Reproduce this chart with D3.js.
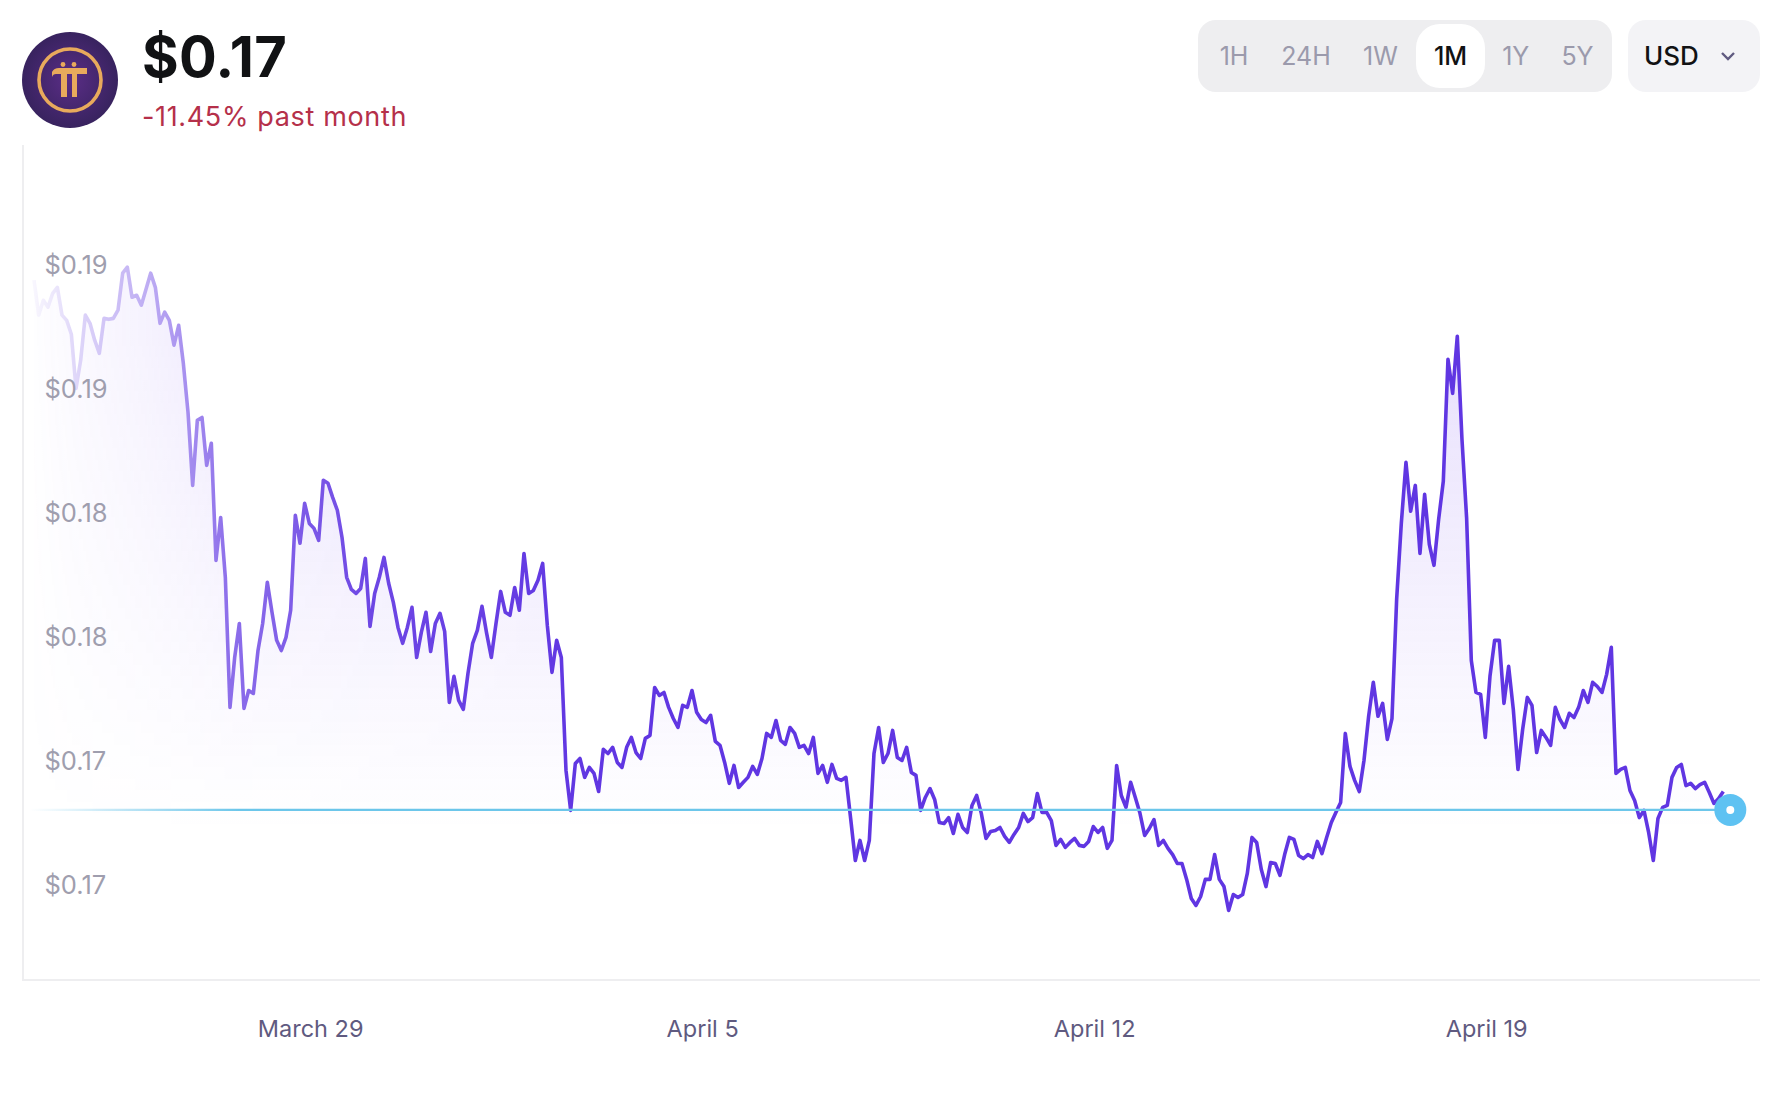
<!DOCTYPE html>
<html>
<head>
<meta charset="utf-8">
<script src="https://cdn.jsdelivr.net/npm/d3@7/dist/d3.min.js"></script>
<style>
  html, body { margin: 0; background: #fff; }
  svg { display: block; }
  text { font-family: Inter, "Noto Sans", sans-serif; }
</style>
</head>
<body>
<div id="chart"></div>
<script>
// one price every two hours
const prices = [
  0.18935,0.18794,0.18854,0.18826,0.18882,0.18906,0.18794,0.18773,0.18717,0.18499,
  0.18612,0.18794,0.18761,0.18693,0.18640,0.18781,0.18777,0.18781,0.18814,0.18963,
  0.18987,0.18866,0.18874,0.18834,0.18898,0.18963,0.18906,0.18761,0.18806,0.18773,
  0.18673,0.18753,0.18600,0.18403,0.18108,0.18370,0.18382,0.18189,0.18278,0.17806,
  0.17979,0.17738,0.17214,0.17415,0.17552,0.17210,0.17282,0.17270,0.17443,0.17552,
  0.17718,0.17597,0.17484,0.17443,0.17496,0.17605,0.17988,0.17875,0.18036,0.17955,
  0.17935,0.17887,0.18129,0.18117,0.18060,0.18008,0.17899,0.17738,0.17689,0.17673,
  0.17693,0.17814,0.17540,0.17673,0.17738,0.17818,0.17714,0.17637,0.17536,0.17472,
  0.17536,0.17617,0.17415,0.17516,0.17597,0.17439,0.17552,0.17593,0.17520,0.17234,
  0.17339,0.17242,0.17206,0.17351,0.17472,0.17524,0.17621,0.17512,0.17415,0.17552,
  0.17681,0.17597,0.17585,0.17697,0.17605,0.17834,0.17673,0.17685,0.17726,0.17794,
  0.17544,0.17355,0.17484,0.17415,0.16960,0.16799,0.16988,0.17008,0.16932,0.16972,
  0.16948,0.16875,0.17045,0.17028,0.17053,0.16992,0.16972,0.17053,0.17093,0.17032,
  0.17008,0.17089,0.17101,0.17294,0.17262,0.17274,0.17214,0.17169,0.17133,0.17222,
  0.17214,0.17282,0.17194,0.17165,0.17153,0.17182,0.17077,0.17061,0.16992,0.16908,
  0.16980,0.16891,0.16912,0.16932,0.16976,0.16944,0.17008,0.17109,0.17093,0.17161,
  0.17081,0.17065,0.17133,0.17109,0.17053,0.17061,0.17028,0.17093,0.16948,0.16980,
  0.16912,0.16984,0.16928,0.16920,0.16932,0.16766,0.16597,0.16678,0.16597,0.16678,
  0.17028,0.17133,0.16992,0.17028,0.17121,0.17012,0.17000,0.17053,0.16952,0.16940,
  0.16799,0.16851,0.16887,0.16843,0.16750,0.16746,0.16770,0.16706,0.16783,0.16730,
  0.16710,0.16819,0.16859,0.16787,0.16686,0.16714,0.16718,0.16730,0.16694,0.16670,
  0.16702,0.16730,0.16787,0.16754,0.16770,0.16867,0.16791,0.16791,0.16758,0.16658,
  0.16682,0.16650,0.16670,0.16686,0.16658,0.16654,0.16674,0.16734,0.16710,0.16730,
  0.16646,0.16678,0.16980,0.16859,0.16811,0.16912,0.16851,0.16787,0.16698,0.16726,
  0.16762,0.16658,0.16678,0.16646,0.16621,0.16585,0.16585,0.16521,0.16444,0.16416,
  0.16452,0.16521,0.16521,0.16621,0.16521,0.16492,0.16396,0.16460,0.16448,0.16460,
  0.16545,0.16690,0.16670,0.16561,0.16492,0.16589,0.16585,0.16537,0.16621,0.16690,
  0.16682,0.16617,0.16605,0.16621,0.16609,0.16674,0.16625,0.16690,0.16750,0.16791,
  0.16831,0.17109,0.16976,0.16920,0.16875,0.17000,0.17178,0.17315,0.17178,0.17230,
  0.17085,0.17169,0.17649,0.17955,0.18201,0.18004,0.18108,0.17834,0.18072,0.17871,
  0.17786,0.17971,0.18125,0.18616,0.18479,0.18709,0.18294,0.17975,0.17403,0.17274,
  0.17266,0.17093,0.17339,0.17484,0.17484,0.17230,0.17379,0.17206,0.16964,0.17125,
  0.17254,0.17222,0.17032,0.17121,0.17093,0.17061,0.17214,0.17165,0.17133,0.17190,
  0.17173,0.17214,0.17282,0.17234,0.17315,0.17298,0.17274,0.17347,0.17456,0.16948,
  0.16964,0.16972,0.16879,0.16839,0.16770,0.16799,0.16710,0.16597,0.16766,0.16811,
  0.16819,0.16932,0.16972,0.16984,0.16899,0.16908,0.16887,0.16903,0.16912,0.16871,
  0.16827,0.16847,0.16875
];
const currentPrice = 0.16801;
const hoursPerPoint = 2;
const startTime = Date.UTC(2025, 2, 24, 1);
const endTime = startTime + 727 * 3600e3;

const yTickValues = [0.19, 0.185, 0.18, 0.175, 0.17, 0.165];
const yTickLabels = ["$0.19", "$0.19", "$0.18", "$0.18", "$0.17", "$0.17"];
const xTickDates = [Date.UTC(2025, 2, 29), Date.UTC(2025, 3, 5), Date.UTC(2025, 3, 12), Date.UTC(2025, 3, 19)];
const xTickLabels = ["March 29", "April 5", "April 12", "April 19"];
const ranges = ["1H", "24H", "1W", "1M", "1Y", "5Y"];
const activeRange = "1M";

const width = 1792, height = 1094;
const frame = { left: 23, right: 1760, top: 145, bottom: 980 };

const x = d3.scaleUtc().domain([startTime, endTime]).range([34, 1730.3]);
const y = d3.scaleLinear().domain([0.165, 0.19]).range([884.6, 264]);
const points = prices.map((p, i) => ({ t: startTime + i * hoursPerPoint * 3600e3, p }));

const svg = d3.select("#chart").append("svg").attr("width", width).attr("height", height);
const defs = svg.append("defs");

// area colour, strongest at the top
const areaGrad = defs.append("linearGradient").attr("id", "areaGrad")
  .attr("gradientUnits", "userSpaceOnUse").attr("x1", 0).attr("x2", 0).attr("y1", 336).attr("y2", 830);
areaGrad.append("stop").attr("offset", 0).attr("stop-color", "#7a4cf0").attr("stop-opacity", 0.17);
areaGrad.append("stop").attr("offset", 1).attr("stop-color", "#7a4cf0").attr("stop-opacity", 0);

// the whole series fades out towards the left edge
const fadeGrad = defs.append("linearGradient").attr("id", "fadeGrad")
  .attr("gradientUnits", "userSpaceOnUse").attr("x1", 30).attr("x2", 600).attr("y1", 0).attr("y2", 0);
[[0, 0.03], [0.08, 0.2], [0.2, 0.4], [0.35, 0.72], [0.6, 0.92], [1, 1]].forEach(([o, a]) => {
  fadeGrad.append("stop").attr("offset", o).attr("stop-color", "#fff").attr("stop-opacity", a);
});
defs.append("mask").attr("id", "fade").attr("maskUnits", "userSpaceOnUse")
  .attr("x", 0).attr("y", 0).attr("width", width).attr("height", height)
  .append("rect").attr("width", width).attr("height", height).attr("fill", "url(#fadeGrad)");

const currentGrad = defs.append("linearGradient").attr("id", "currentGrad")
  .attr("gradientUnits", "userSpaceOnUse").attr("x1", 30).attr("x2", 240).attr("y1", 0).attr("y2", 0);
currentGrad.append("stop").attr("offset", 0).attr("stop-color", "#6cc6ea").attr("stop-opacity", 0);
currentGrad.append("stop").attr("offset", 1).attr("stop-color", "#6cc6ea").attr("stop-opacity", 1);

// frame
svg.append("line").attr("x1", frame.left).attr("x2", frame.left).attr("y1", frame.top).attr("y2", frame.bottom)
  .attr("stroke", "#eeeef0").attr("stroke-width", 2);
svg.append("line").attr("x1", frame.left - 1).attr("x2", frame.right).attr("y1", frame.bottom).attr("y2", frame.bottom)
  .attr("stroke", "#eeeef0").attr("stroke-width", 2);

const series = svg.append("g").attr("mask", "url(#fade)");
const area = d3.area().x(d => x(d.t)).y0(frame.bottom).y1(d => y(d.p));
const line = d3.line().x(d => x(d.t)).y(d => y(d.p));
series.append("path").datum(points).attr("d", area).attr("fill", "url(#areaGrad)");
series.append("path").datum(points).attr("d", line)
  .attr("fill", "none").attr("stroke", "#6036e2").attr("stroke-width", 3.6).attr("stroke-linejoin", "round");

// y labels sit inside the plot
const yAxis = d3.axisRight(y).tickValues(yTickValues).tickSize(0).tickPadding(0)
  .tickFormat((d, i) => yTickLabels[i]);
const yG = svg.append("g").attr("transform", "translate(44.5,1)").call(yAxis);
yG.select(".domain").remove();
yG.selectAll("text").attr("font-size", 25.5).attr("fill", "#9f9eae").style("font-family", "Inter");

const xAxis = d3.axisBottom(x).tickValues(xTickDates).tickSize(0).tickPadding(0)
  .tickFormat((d, i) => xTickLabels[i]);
const xG = svg.append("g").attr("transform", "translate(-1.5,1018)").call(xAxis);
xG.select(".domain").remove();
xG.selectAll("text").attr("font-size", 23.5).attr("fill", "#5f5a80").attr("dy", 0).attr("y", 19)
  .style("font-family", "Inter");

// current price line and marker
svg.append("line").attr("x1", 30).attr("x2", x(endTime)).attr("y1", y(currentPrice)).attr("y2", y(currentPrice))
  .attr("stroke", "url(#currentGrad)").attr("stroke-width", 2.4);
svg.append("circle").attr("cx", x(endTime)).attr("cy", y(currentPrice)).attr("r", 16).attr("fill", "#5ec2f2");
svg.append("circle").attr("cx", x(endTime)).attr("cy", y(currentPrice)).attr("r", 4).attr("fill", "#fff");

// coin logo
const logoFill = defs.append("radialGradient").attr("id", "logoFill");
logoFill.append("stop").attr("offset", 0).attr("stop-color", "#5a2d86");
logoFill.append("stop").attr("offset", 1).attr("stop-color", "#38235f");
const logo = svg.append("g").attr("transform", "translate(70,80)");
logo.append("circle").attr("r", 48).attr("fill", "url(#logoFill)");
logo.append("circle").attr("r", 31).attr("fill", "none").attr("stroke", "#e8aa5c").attr("stroke-width", 3.6);
logo.append("path").attr("fill", "#e8aa5c")
  .attr("d", "M-18,-8 Q-16,-12 -11,-12 L17,-12 L17,-6 L7,-6 L7,17 L2,17 L2,-6 L-3,-6 L-3,17 L-9,17 L-9,-6 L-14,-6 Q-17,-6 -18,-3 Z");
logo.append("circle").attr("cx", -7).attr("cy", -15.5).attr("r", 2.4).attr("fill", "#e8aa5c");
logo.append("circle").attr("cx", 4).attr("cy", -15.5).attr("r", 2.4).attr("fill", "#e8aa5c");

// header
svg.append("text").attr("x", 142).attr("y", 77).attr("font-size", 56).attr("font-weight", 700)
  .attr("fill", "#111214").attr("letter-spacing", 0.4).text("$0.17");
svg.append("text").attr("x", 142).attr("y", 126).attr("font-size", 27)
  .attr("fill", "#b5304a").attr("letter-spacing", 0.65).text("-11.45% past month");

// range switch
svg.append("rect").attr("x", 1198).attr("y", 20).attr("width", 414).attr("height", 72).attr("rx", 18).attr("fill", "#eeeef0");
svg.append("rect").attr("x", 1416).attr("y", 24).attr("width", 69).attr("height", 64).attr("rx", 24).attr("fill", "#fff");
const rangeX = d3.scaleOrdinal(ranges, [1234, 1306, 1380.5, 1450.6, 1515.7, 1577.5]);
svg.selectAll(".range").data(ranges).join("text").attr("class", "range")
  .attr("x", d => rangeX(d)).attr("y", 65).attr("text-anchor", "middle").attr("font-size", 25)
  .attr("font-weight", d => d === activeRange ? 500 : 400)
  .attr("fill", d => d === activeRange ? "#111214" : "#9b9aac").text(d => d);

// currency
svg.append("rect").attr("x", 1628).attr("y", 20).attr("width", 132).attr("height", 72).attr("rx", 18).attr("fill", "#f3f3f6");
svg.append("text").attr("x", 1644).attr("y", 65).attr("font-size", 26).attr("font-weight", 500)
  .attr("fill", "#111214").text("USD");
svg.append("path").attr("d", "M1722,53 L1728,59 L1734,53").attr("fill", "none")
  .attr("stroke", "#5f5a80").attr("stroke-width", 2.4);
</script>
</body>
</html>
